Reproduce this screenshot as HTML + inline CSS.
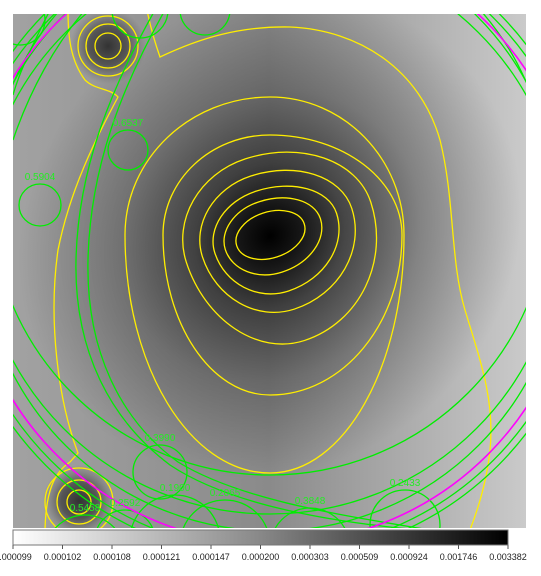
<!DOCTYPE html>
<html><head><meta charset="utf-8"><style>
html,body{margin:0;padding:0;background:#fff;width:541px;height:576px;overflow:hidden;}
svg{display:block;font-family:"Liberation Sans",sans-serif;overflow:hidden;}
</style></head><body>
<svg id="chart" width="541" height="576" viewBox="0 0 541 576">
<defs>
<linearGradient id="bgLin" x1="0" y1="0" x2="1" y2="0">
<stop offset="0" stop-color="#a2a2a2"/><stop offset="0.5" stop-color="#8a8a8a"/><stop offset="1" stop-color="#cacaca"/>
</linearGradient>
<radialGradient id="core" cx="270" cy="236" r="260" gradientUnits="userSpaceOnUse" gradientTransform="translate(270 236) rotate(-35) scale(1 0.9) translate(-270 -236)">
<stop offset="0" stop-color="#000" stop-opacity="1"/>
<stop offset="0.12" stop-color="#000" stop-opacity="0.85"/>
<stop offset="0.3" stop-color="#000" stop-opacity="0.55"/>
<stop offset="0.6" stop-color="#000" stop-opacity="0.25"/>
<stop offset="1" stop-color="#000" stop-opacity="0"/>
</radialGradient>
<radialGradient id="src" cx="0.5" cy="0.5" r="0.5">
<stop offset="0" stop-color="#333"/><stop offset="0.5" stop-color="#444" stop-opacity="0.8"/><stop offset="1" stop-color="#666" stop-opacity="0"/>
</radialGradient>
<linearGradient id="cbar" x1="0" y1="0" x2="1" y2="0">
<stop offset="0" stop-color="#fff"/><stop offset="0.5" stop-color="#888"/><stop offset="1" stop-color="#000"/>
</linearGradient>
<clipPath id="imgClip"><rect x="13" y="14" width="513" height="514"/></clipPath>
</defs>
<g clip-path="url(#imgClip)">
<rect x="13" y="14" width="513" height="514" fill="url(#bgLin)"/>
<rect x="13" y="14" width="513" height="514" fill="url(#core)"/>
<circle cx="108" cy="46" r="38" fill="url(#src)"/>
<circle cx="79" cy="501" r="36" fill="url(#src)"/>
<g id="contours" fill="none" stroke="#ffee00" stroke-width="1.3"></g>
<g id="green" fill="none" stroke="#00ee00" stroke-width="1.3"></g>
<g id="magenta" fill="none" stroke="#ff00ff" stroke-width="1.6"></g>
<g id="glabels" fill="#22ee22" font-size="10"></g>
</g>
<rect x="13" y="530" width="495" height="15" fill="url(#cbar)" stroke="#777" stroke-width="1"/>
<g id="cbticks"></g>
</svg>
<script>
const NS="http://www.w3.org/2000/svg";
// colorbar tick labels
const tickLabels=["0.000099","0.000102","0.000108","0.000121","0.000147","0.000200","0.000303","0.000509","0.000924","0.001746","0.003382"];
// contour ring extents around peak: left, right, top, bottom
const ringLeft=[235,223,212,199,182,163,125];
const ringRight=[306,323,340,356,376,402,404];
const ringTop=[212,200,189,173,155,135,97];
const ringBottom=[258,274,294,313,346,395,473];
const peakX=270, peakY=235;
// point-source contour radii
const srcTopR=[13,22,30];
const srcBotR=[12,22,34];
// green region circles: cx, cy, r, label
const circX=[128,40,160,125,175,225,310,405,85];
const circY=[150,205,472,540,540,545,548,525,555];
const circR=[20,21,27,30,45,45,40,35,40];
const circLabel=["0.6537","0.5904","0.3990","0.2592","0.1900","0.2065","0.3848","0.2433","0.5458"];
// big arcs: cx, cy, r
const arcX=[272,272,272,270,270];
const arcY=[239,239,239,195,222];
const arcR=[292,313,320,280,292];
const magX=272, magY=239, magR=305;

const cb=document.getElementById('cbticks');
const cbX0=13,cbX1=508;
tickLabels.forEach((t,i)=>{
  const x=cbX0+(cbX1-cbX0)*i/(tickLabels.length-1);
  const l=document.createElementNS(NS,'line');
  l.setAttribute('x1',x);l.setAttribute('x2',x);l.setAttribute('y1',545);l.setAttribute('y2',549);
  l.setAttribute('stroke','#555');
  
  
  cb.appendChild(l);
  const tx=document.createElementNS(NS,'text');
  tx.setAttribute('x',x);tx.setAttribute('y',560);tx.setAttribute('text-anchor','middle');
  tx.setAttribute('font-size','9');tx.setAttribute('fill','#222');
  tx.textContent=t;
  
  
  cb.appendChild(tx);
});

const k=0.5523;
function ringPath(L,R,T,B,cx,cy){
  const rx1=R-cx, rx2=cx-L, ry1=cy-T, ry2=B-cy;
  return `M${R},${cy} C${R},${cy-ry1*k} ${cx+rx1*k},${T} ${cx},${T} C${cx-rx2*k},${T} ${L},${cy-ry1*k} ${L},${cy} C${L},${cy+ry2*k} ${cx-rx2*k},${B} ${cx},${B} C${cx+rx1*k},${B} ${R},${cy+ry2*k} ${R},${cy}Z`;
}
const cg=document.getElementById('contours');
ringLeft.forEach((L,i)=>{
  const p=document.createElementNS(NS,'path');
  p.setAttribute('d',ringPath(L,ringRight[i],ringTop[i],ringBottom[i],peakX,peakY));
  if(i<5)p.setAttribute('transform',`rotate(-18 ${peakX} ${peakY})`);
  
  
  cg.appendChild(p);
});
function addPath(g,d,name){const p=document.createElementNS(NS,'path');p.setAttribute('d',d);
  
  
  g.appendChild(p);return p;}
addPath(cg,"M147,10 C150,25 154,40 160,57 C200,38 240,26 290,27 C360,30 420,70 440,140 C455,200 450,260 465,310 C480,360 495,400 490,450 C487,480 478,510 468,535","contour-outer-right");
addPath(cg,"M68,10 C68,35 70,60 85,80 C95,90 110,88 118,97 C95,140 70,190 58,250 C48,320 58,400 78,453 L70,462 C55,472 45,490 45,535","contour-outer-left");
function circ(g,cx,cy,r,name){const c=document.createElementNS(NS,'circle');c.setAttribute('cx',cx);c.setAttribute('cy',cy);c.setAttribute('r',r);
  
  
  g.appendChild(c);}
srcTopR.forEach(r=>circ(cg,108,46,r,'contour-source-top'));
srcBotR.forEach(r=>circ(cg,79,502,r,'contour-source-bottom'));

const gg=document.getElementById('green'), gl=document.getElementById('glabels');
circX.forEach((x,i)=>{
  circ(gg,x,circY[i],circR[i],'region-circle');
  const t=document.createElementNS(NS,'text');
  t.setAttribute('x',x);t.setAttribute('y',circY[i]-circR[i]-4);t.setAttribute('text-anchor','middle');
  t.textContent=circLabel[i];
  
  
  gl.appendChild(t);
});
arcX.forEach((x,i)=>circ(gg,x,arcY[i],arcR[i],'region-arc'));
// long inner left arcs
addPath(gg,"M155,10 C110,90 78,170 76,260 C74,350 110,420 170,465 C230,505 330,522 420,530","region-arc-left-a");
addPath(gg,"M165,10 C120,90 90,170 88,260 C86,350 120,420 178,462 C240,500 340,515 430,530","region-arc-left-b");
addPath(gg,"M13,140 C30,90 55,45 85,10","region-arc-topleft");
addPath(gg,"M13,95 C20,70 35,40 50,10","region-arc-topleft2");
// top-edge small green circles
circ(gg,140,10,28,'region-circle');circ(gg,205,10,25,'region-circle');circ(gg,20,20,25,'region-circle');
circ(document.getElementById('magenta'),magX,magY,magR,'magenta-circle');
</script>
</body></html>
